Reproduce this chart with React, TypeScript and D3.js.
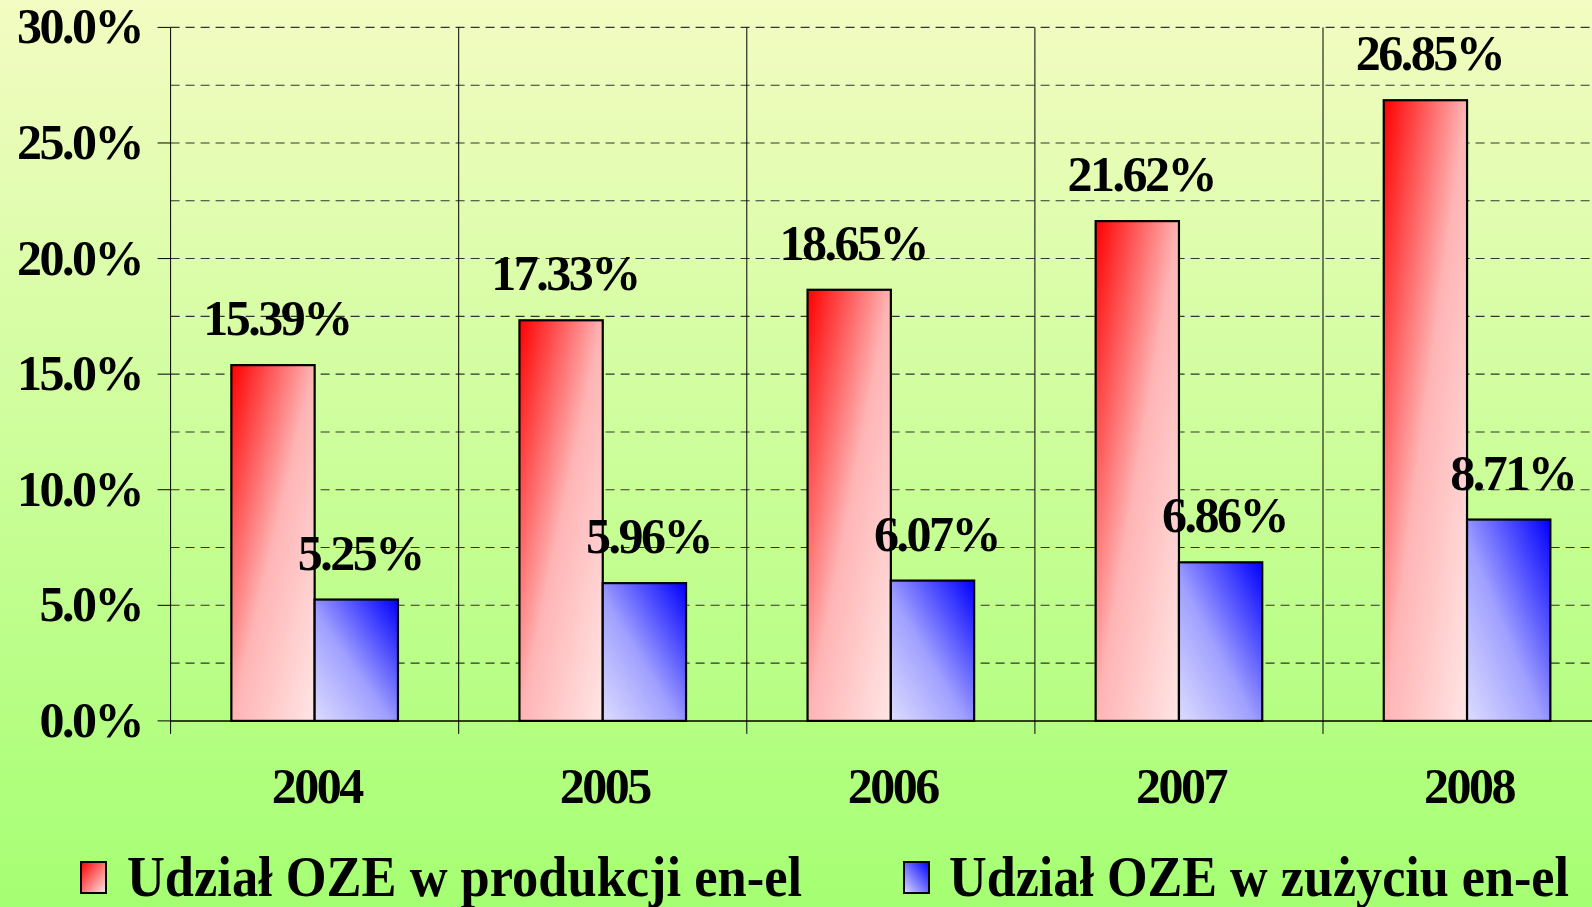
import * as d3 from "d3";

const years = ["2004", "2005", "2006", "2007", "2008"];
const production = [15.39, 17.33, 18.65, 21.62, 26.85];
const consumption = [5.25, 5.96, 6.07, 6.86, 8.71];
const seriesNames = ["Udział OZE w produkcji en-el", "Udział OZE w zużyciu en-el"];
const yTicks = [0, 5, 10, 15, 20, 25, 30];
const gridValues = [2.5, 5, 7.5, 10, 12.5, 15, 17.5, 20, 22.5, 25, 27.5, 30];

const W = 1592;
const H = 907;
const FONT = "'Liberation Serif', 'Times New Roman', serif";
const FS = 50;
const LS = -2.5;

export default function App() {
  // plot area (right edge runs past the picture, as in the original)
  const left = 170.6;
  const step = 288.1;
  const top = 27.4;
  const bottom = 720.9;

  const x = d3
    .scaleBand<string>()
    .domain(years)
    .range([left, left + step * years.length])
    .paddingInner(0)
    .paddingOuter(0);
  const inner = d3.scaleBand<number>().domain([0, 1]).range([0, 166.6]);
  const barOffset = (x.bandwidth() - 166.6) / 2;
  const y = d3.scaleLinear().domain([0, 30]).range([bottom, top]);

  const series = [production, consumption];
  const fills = ["url(#redGrad)", "url(#blueGrad)"];

  return (
    <>
      <style>{`body{margin:0;overflow:hidden}`}</style>
      <svg width={W} height={H} style={{ display: "block" }}>
        <defs>
          <linearGradient id="bg" x1="0" y1="0" x2="0" y2="1">
            <stop offset="0%" stopColor="#f3fcc2" />
            <stop offset="100%" stopColor="#a5ff72" />
          </linearGradient>
          <linearGradient id="redGrad" x1="0" y1="0" x2="1" y2="1">
            <stop offset="0%" stopColor="#ff0000" />
            <stop offset="50%" stopColor="#ffb4b4" />
            <stop offset="100%" stopColor="#ffe6e6" />
          </linearGradient>
          <linearGradient id="blueGrad" x1="1" y1="0" x2="0" y2="1">
            <stop offset="0%" stopColor="#0000ff" />
            <stop offset="55%" stopColor="#a0a0ff" />
            <stop offset="100%" stopColor="#dcdcff" />
          </linearGradient>
          <linearGradient id="redSw" x1="0" y1="0" x2="1" y2="1">
            <stop offset="0%" stopColor="#ff0000" />
            <stop offset="100%" stopColor="#ffe6e6" />
          </linearGradient>
          <linearGradient id="blueSw" x1="1" y1="0" x2="0" y2="1">
            <stop offset="0%" stopColor="#0000ff" />
            <stop offset="100%" stopColor="#dcdcff" />
          </linearGradient>
        </defs>
        <rect x={0} y={0} width={W} height={H} fill="url(#bg)" />

        {/* horizontal grid */}
        {gridValues.map((v) => (
          <line
            key={"g" + v}
            x1={left}
            x2={x.range()[1]}
            y1={y(v)}
            y2={y(v)}
            stroke="#333"
            strokeWidth={1.1}
            strokeDasharray="9,6"
          />
        ))}

        {/* category separators */}
        {years.map((yr) => (
          <line
            key={"v" + yr}
            x1={x(yr)!}
            x2={x(yr)!}
            y1={top}
            y2={bottom + 13}
            stroke="#000"
            strokeWidth={1}
          />
        ))}

        {/* y axis ticks + labels */}
        {yTicks.map((t) => (
          <g key={"t" + t}>
            <line x1={left - 13} x2={left} y1={y(t)} y2={y(t)} stroke="#000" />
            <text
              x={142}
              y={y(t) + 16}
              textAnchor="end"
              fontFamily={FONT}
              fontWeight="bold"
              fontSize={FS}
              letterSpacing={LS}
            >
              {t.toFixed(1) + "%"}
            </text>
          </g>
        ))}
        <line x1={left} x2={x.range()[1]} y1={bottom} y2={bottom} stroke="#000" strokeWidth={1.5} />

        {/* bars */}
        {series.map((vals, si) =>
          years.map((yr, i) => {
            const bx = x(yr)! + barOffset + inner(si)!;
            const v = vals[i];
            return (
              <rect
                key={"b" + si + yr}
                x={bx}
                y={y(v)}
                width={inner.bandwidth()}
                height={bottom - y(v)}
                fill={fills[si]}
                stroke="#000"
                strokeWidth={2.2}
              />
            );
          })
        )}

        {/* value labels */}
        {series.map((vals, si) =>
          years.map((yr, i) => {
            const cx = x(yr)! + barOffset + inner(si)! + inner.bandwidth() / 2 + 4;
            return (
              <text
                key={"l" + si + yr}
                x={cx}
                y={y(vals[i]) - 30}
                textAnchor="middle"
                fontFamily={FONT}
                fontWeight="bold"
                fontSize={FS}
                letterSpacing={LS}
              >
                {vals[i].toFixed(2) + "%"}
              </text>
            );
          })
        )}

        {/* x labels */}
        {years.map((yr) => (
          <text
            key={"x" + yr}
            x={x(yr)! + x.bandwidth() / 2 + 2}
            y={803}
            textAnchor="middle"
            fontFamily={FONT}
            fontWeight="bold"
            fontSize={FS}
            letterSpacing={LS}
          >
            {yr}
          </text>
        ))}

        {/* legend */}
        {[
          { sx: 81, tx: 127, tw: 675, fill: "url(#redSw)" },
          { sx: 904, tx: 949, tw: 620, fill: "url(#blueSw)" },
        ].map((d, i) => (
          <g key={"lg" + i}>
            <rect x={d.sx} y={862} width={25} height={31} fill={d.fill} stroke="#000" strokeWidth={2} />
            <text
              x={d.tx}
              y={896}
              fontFamily={FONT}
              fontWeight="bold"
              fontSize={56}
              textLength={d.tw}
              lengthAdjust="spacingAndGlyphs"
            >
              {seriesNames[i]}
            </text>
          </g>
        ))}
      </svg>
    </>
  );
}
